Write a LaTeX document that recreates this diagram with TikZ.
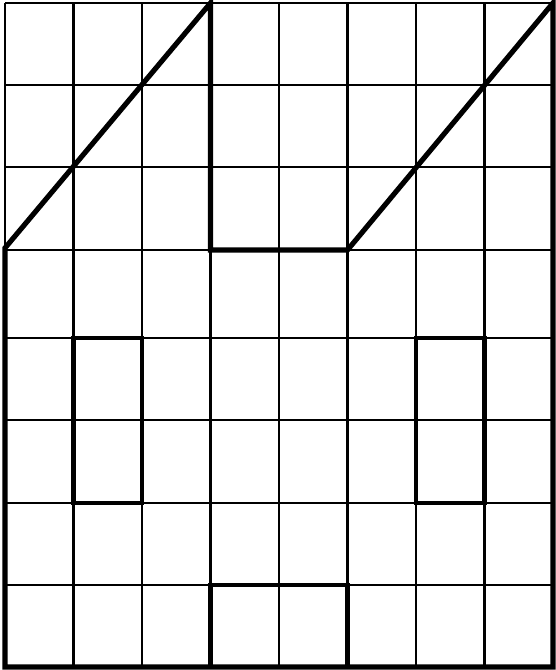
\documentclass[tikz,border=0pt]{standalone}
\usepackage{tikz}
\tikzset{
  gridline/.style={line width=2pt, black},
  outline/.style={line width=4.4pt, black, line join=miter},
  frame/.style={line width=4.2pt, black}
}
\begin{document}
\begin{tikzpicture}[x=0.03cm, y=-0.03cm]
  \useasboundingbox (0,0) rectangle (555,670);
  % grid
  \foreach \x in {5,73.5,142,210.5,279,347.5,416,484.5,553}
    \draw[gridline] (\x,3) -- (\x,667);
  \foreach \y in {3,85,167,250,338,420,503,585,667}
    \draw[gridline] (5,\y) -- (553,\y);
  % house outline
  \coordinate (roofL) at (5,248);
  \coordinate (peakL) at (210.5,3);
  \coordinate (gapL) at (210.5,250);
  \coordinate (gapR) at (347.5,250);
  \coordinate (peakR) at (553,3);
  \coordinate (baseR) at (553,667);
  \coordinate (baseL) at (5,667);
  \draw[outline] (roofL) -- (peakL) -- (gapL) -- (gapR) -- (peakR) -- (baseR) -- (baseL) -- cycle;
  % windows and door
  \draw[frame] (73.5,338) rectangle (142,503);
  \draw[frame] (416,338) rectangle (484.5,503);
  \draw[frame] (210.5,667) -- (210.5,585) -- (347.5,585) -- (347.5,667);
\end{tikzpicture}
\end{document}
